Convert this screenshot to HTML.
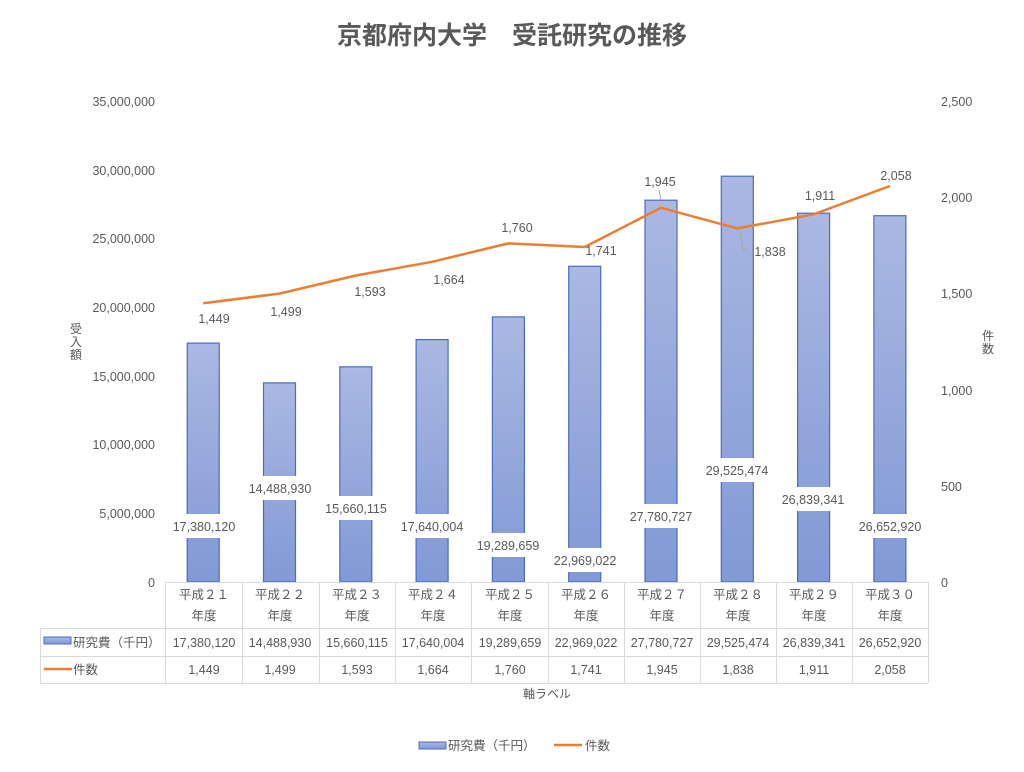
<!DOCTYPE html>
<html><head><meta charset="utf-8"><style>
body{margin:0;background:#fff;}
svg text{font-family:"Liberation Sans","Noto Sans CJK JP",sans-serif;fill:#595959;}
</style></head><body>
<svg width="1024" height="767" viewBox="0 0 1024 767" xmlns="http://www.w3.org/2000/svg">
<defs><linearGradient id="g" x1="0" y1="0" x2="0" y2="1"><stop offset="0" stop-color="#aab8e2"/><stop offset="1" stop-color="#8299d6"/></linearGradient></defs>
<text x="512" y="44" text-anchor="middle" font-size="25" font-weight="bold" style="fill:#595959">京都府内大学　受託研究の推移</text>
<g font-size="12.5" text-anchor="end">
<text x="155" y="106">35,000,000</text><text x="155" y="175">30,000,000</text><text x="155" y="243">25,000,000</text><text x="155" y="312">20,000,000</text><text x="155" y="381">15,000,000</text><text x="155" y="449">10,000,000</text><text x="155" y="518">5,000,000</text><text x="155" y="587">0</text>
</g>
<g font-size="12.5" text-anchor="start">
<text x="941" y="106">2,500</text><text x="941" y="202">2,000</text><text x="941" y="298">1,500</text><text x="941" y="395">1,000</text><text x="941" y="491">500</text><text x="941" y="587">0</text>
</g>
<g font-size="12" text-anchor="middle">
<text x="76" y="333">受</text><text x="76" y="346">入</text><text x="76" y="359">額</text>
<text x="988" y="340">件</text><text x="988" y="353">数</text>
</g>
<g fill="url(#g)" stroke="#4a6cc0" stroke-width="1.2">
<rect x="187.2" y="343.1" width="32" height="238.9"/>
<rect x="263.5" y="382.9" width="32" height="199.1"/>
<rect x="339.8" y="366.8" width="32" height="215.2"/>
<rect x="416.1" y="339.6" width="32" height="242.4"/>
<rect x="492.4" y="316.9" width="32" height="265.1"/>
<rect x="568.7" y="266.3" width="32" height="315.7"/>
<rect x="645" y="200.2" width="32" height="381.8"/>
<rect x="721.3" y="176.2" width="32" height="405.8"/>
<rect x="797.6" y="213.2" width="32" height="368.8"/>
<rect x="873.9" y="215.7" width="32" height="366.3"/>
</g>
<g fill="#fff">
<rect x="171" y="514" width="66" height="24"/><rect x="247" y="476" width="66" height="24"/><rect x="323" y="496" width="66" height="24"/><rect x="399" y="514" width="66" height="24"/><rect x="475" y="533" width="66" height="24"/><rect x="552" y="548" width="66" height="24"/><rect x="628" y="504" width="66" height="24"/><rect x="704" y="458" width="66" height="24"/><rect x="780" y="487" width="66" height="24"/><rect x="857" y="514" width="66" height="24"/>
</g>
<g font-size="12.5" text-anchor="middle">
<text x="204" y="531">17,380,120</text><text x="280" y="493">14,488,930</text><text x="356" y="513">15,660,115</text><text x="432" y="531">17,640,004</text><text x="508" y="550">19,289,659</text><text x="585" y="565">22,969,022</text><text x="661" y="521">27,780,727</text><text x="737" y="475">29,525,474</text><text x="813" y="504">26,839,341</text><text x="890" y="531">26,652,920</text>
</g>
<polyline fill="none" stroke="#ed7d31" stroke-width="2.5" stroke-linejoin="round" points="203.2,303.2 279.5,293.6 355.8,275.5 432.1,261.8 508.4,243.4 584.7,247 661,207.8 737.3,228.4 813.6,214.3 889.9,186"/>
<path d="M659,190 L661,200 M740,232 L743,250 L748,250" stroke="#a6a6a6" fill="none"/>
<g font-size="12.5" text-anchor="middle">
<text x="214" y="323">1,449</text><text x="286" y="316">1,499</text><text x="370" y="296">1,593</text><text x="449" y="284">1,664</text><text x="517" y="232">1,760</text><text x="601" y="255">1,741</text><text x="660" y="186">1,945</text><text x="770" y="256">1,838</text><text x="820" y="200">1,911</text><text x="896" y="180">2,058</text>
</g>
<g stroke="#d9d9d9" stroke-width="1" fill="none">
<line x1="165" y1="582.5" x2="928" y2="582.5"/>
<line x1="40" y1="628.5" x2="928" y2="628.5"/>
<line x1="40" y1="656.5" x2="928" y2="656.5"/>
<line x1="40" y1="683.5" x2="928" y2="683.5"/>
<line x1="40.5" y1="628" x2="40.5" y2="683"/>
<line x1="165.5" y1="582" x2="165.5" y2="683"/><line x1="242.5" y1="582" x2="242.5" y2="683"/><line x1="319.5" y1="582" x2="319.5" y2="683"/><line x1="395.5" y1="582" x2="395.5" y2="683"/><line x1="471.5" y1="582" x2="471.5" y2="683"/><line x1="548.5" y1="582" x2="548.5" y2="683"/><line x1="624.5" y1="582" x2="624.5" y2="683"/><line x1="700.5" y1="582" x2="700.5" y2="683"/><line x1="776.5" y1="582" x2="776.5" y2="683"/><line x1="852.5" y1="582" x2="852.5" y2="683"/><line x1="928.5" y1="582" x2="928.5" y2="683"/>
</g>
<g font-size="12.5" text-anchor="middle">
<text x="204" y="599">平成２１</text><text x="204" y="620">年度</text>
<text x="280" y="599">平成２２</text><text x="280" y="620">年度</text>
<text x="357" y="599">平成２３</text><text x="357" y="620">年度</text>
<text x="433" y="599">平成２４</text><text x="433" y="620">年度</text>
<text x="510" y="599">平成２５</text><text x="510" y="620">年度</text>
<text x="586" y="599">平成２６</text><text x="586" y="620">年度</text>
<text x="662" y="599">平成２７</text><text x="662" y="620">年度</text>
<text x="738" y="599">平成２８</text><text x="738" y="620">年度</text>
<text x="814" y="599">平成２９</text><text x="814" y="620">年度</text>
<text x="890" y="599">平成３０</text><text x="890" y="620">年度</text>
<text x="204" y="647">17,380,120</text><text x="280" y="647">14,488,930</text><text x="357" y="647">15,660,115</text><text x="433" y="647">17,640,004</text><text x="510" y="647">19,289,659</text><text x="586" y="647">22,969,022</text><text x="662" y="647">27,780,727</text><text x="738" y="647">29,525,474</text><text x="814" y="647">26,839,341</text><text x="890" y="647">26,652,920</text>
<text x="204" y="674">1,449</text><text x="280" y="674">1,499</text><text x="357" y="674">1,593</text><text x="433" y="674">1,664</text><text x="510" y="674">1,760</text><text x="586" y="674">1,741</text><text x="662" y="674">1,945</text><text x="738" y="674">1,838</text><text x="814" y="674">1,911</text><text x="890" y="674">2,058</text>
</g>
<rect x="44" y="637" width="27" height="7" fill="url(#g)" stroke="#4a6cc0"/>
<text x="73" y="647" font-size="12.5">研究費（千円）</text>
<line x1="44" y1="669" x2="72" y2="669" stroke="#ed7d31" stroke-width="2.5"/>
<text x="73" y="674" font-size="12.5">件数</text>
<text x="547" y="698" font-size="12" text-anchor="middle">軸ラベル</text>
<rect x="419" y="742" width="27" height="7" fill="url(#g)" stroke="#4a6cc0"/>
<text x="448" y="750" font-size="12.5">研究費（千円）</text>
<line x1="554" y1="745" x2="582" y2="745" stroke="#ed7d31" stroke-width="2.5"/>
<text x="585" y="750" font-size="12.5">件数</text>
</svg>
</body></html>
